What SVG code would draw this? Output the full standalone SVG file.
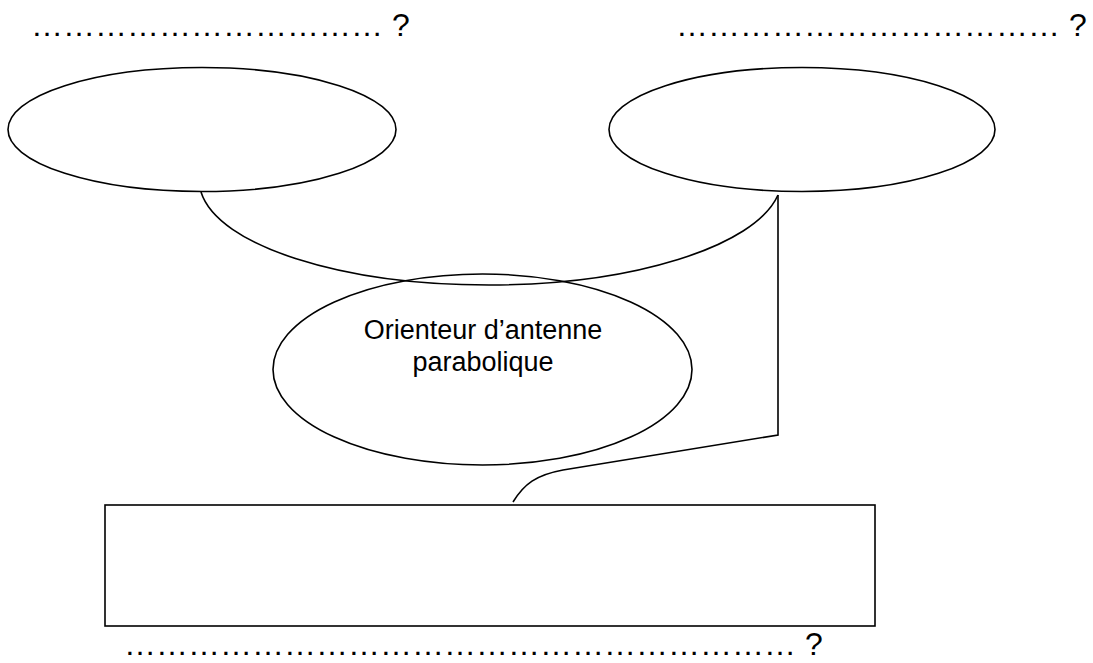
<svg xmlns="http://www.w3.org/2000/svg" width="1093" height="663" viewBox="0 0 1093 663">
<style>
.s{fill:none;stroke:#000;stroke-width:1.6}
.t{font-family:"Liberation Sans",Arial,sans-serif;fill:#000}
.q{font-size:32px}
.c{font-size:27px;text-anchor:middle}
</style>
<rect width="1093" height="663" fill="#fff"/>
<g id="connectors">
<path class="s" d="M201,192 C218,246 342,285 489,285 C631,285 755,247 778,195"/>
<path class="s" d="M778,195 V435 L563,470 C536,475 524,484 513,502"/>
</g>
<g id="node-left">
<ellipse class="s" cx="202" cy="129.5" rx="194" ry="62"/>
<text class="t q" x="31" y="36">&#8230;&#8230;&#8230;&#8230;&#8230;&#8230;&#8230;&#8230;&#8230;&#8230;&#8230; ?</text>
</g>
<g id="node-right">
<ellipse class="s" cx="802" cy="129.5" rx="193" ry="62"/>
<text class="t q" x="676" y="36">&#8230;&#8230;&#8230;&#8230;&#8230;&#8230;&#8230;&#8230;&#8230;&#8230;&#8230;&#8230; ?</text>
</g>
<g id="node-center">
<ellipse class="s" cx="482.5" cy="369.5" rx="209.5" ry="95.5"/>
<text class="t c" x="483" y="339">Orienteur d’antenne</text>
<text class="t c" x="483" y="371">parabolique</text>
</g>
<g id="node-bottom">
<rect class="s" x="105" y="505" width="770" height="121"/>
<text class="t q" x="124" y="655">&#8230;&#8230;&#8230;&#8230;&#8230;&#8230;&#8230;&#8230;&#8230;&#8230;&#8230;&#8230;&#8230;&#8230;&#8230;&#8230;&#8230;&#8230;&#8230;&#8230;&#8230; ?</text>
</g>
</svg>
